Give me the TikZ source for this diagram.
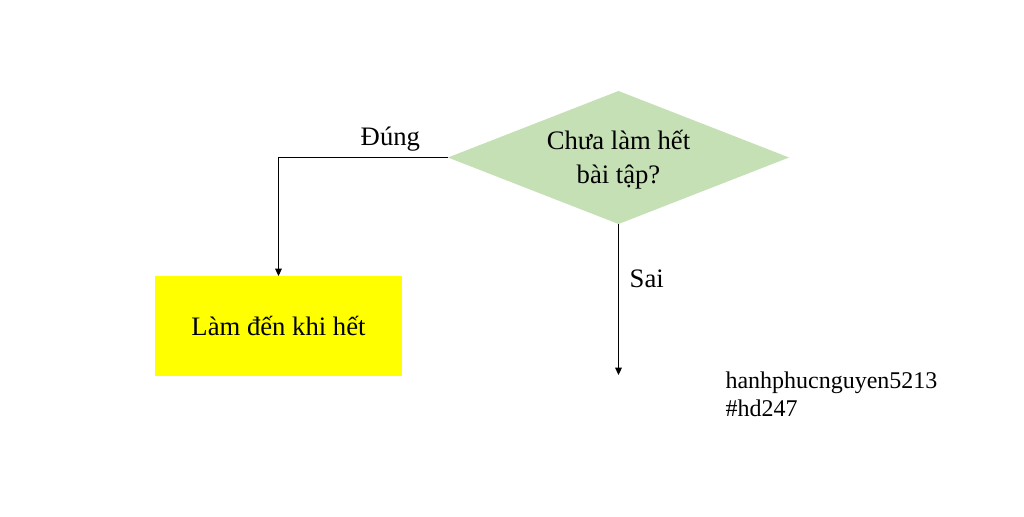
\documentclass[tikz,border=0pt]{standalone}
\usepackage{fontspec}
\setmainfont{Liberation Serif}
\usetikzlibrary{shapes.geometric,arrows.meta}
\definecolor{leafgreen}{RGB}{197,224,180}
\definecolor{brightyellow}{RGB}{255,255,0}

\begin{document}
\begin{tikzpicture}[x=0.75pt, y=-0.75pt, line width=0.75pt,
    decision/.style={diamond, shape aspect=2.56, fill=leafgreen, inner sep=0pt, outer sep=0pt, minimum width=255.75pt, minimum height=99.75pt, align=center, text height=44pt, font=\fontsize{20}{26}\selectfont},
    task/.style={rectangle, fill=brightyellow, outer sep=0pt, minimum width=185.25pt, minimum height=75pt, font=\fontsize{20}{24}\selectfont},
    branch/.style={font=\fontsize{20}{24}\selectfont, inner sep=1pt},
    flow/.style={-{Triangle[length=5.5pt, width=5pt]}}]

    \useasboundingbox[fill=white] (0,0) rectangle (1024,517);

    \node[decision] (check) at (618.5,157.5) {Chưa làm hết\\bài tập?};
    \node[task] (work) at (278.5,326) {Làm đến khi hết};
    \coordinate (stop) at (618.5,375);

    \draw[flow] (check.west) -| node[branch, above=3pt, pos=0.17] {Đúng} (work.north);
    \draw[flow] (check.south) -- node[branch, right=7pt, pos=0.36] {Sai} (stop);

    \node[anchor=west, align=left, inner sep=0pt, font=\fontsize{18}{21}\selectfont] (watermark) at (725,394) {hanhphucnguyen5213\\\#hd247};

\end{tikzpicture}
\end{document}
